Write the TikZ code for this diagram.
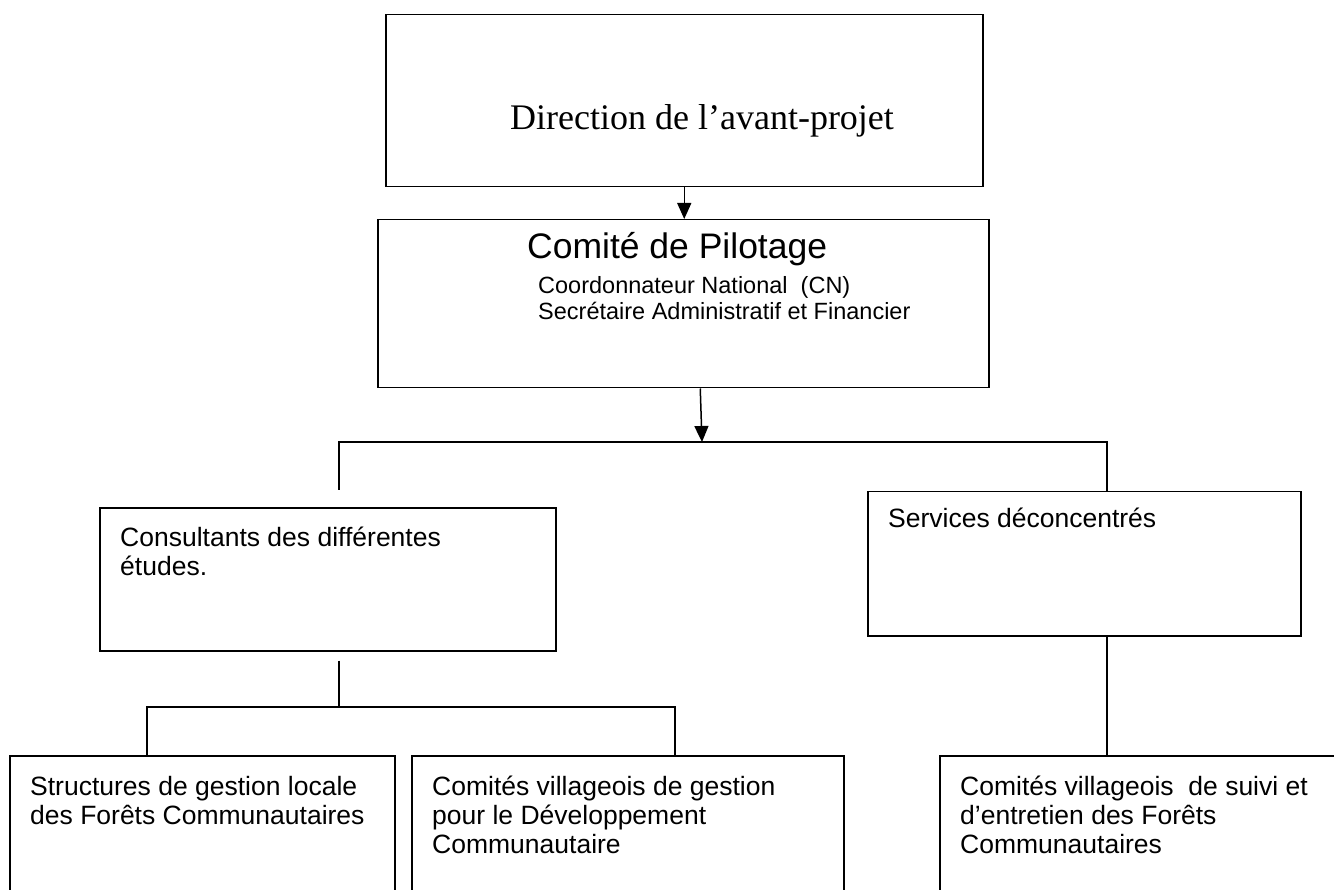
\documentclass[tikz,border=0pt]{standalone}
\usepackage{fontspec}
\setmainfont{Liberation Sans}
\newfontfamily\timesfont{Liberation Serif}
\usetikzlibrary{arrows.meta,positioning,calc}
\tikzstyle{box}=[draw,line width=1.5pt,rectangle,inner sep=0pt,anchor=north west]
% multi-line texts are placed by the baseline of their last line
\tikzstyle{txt}=[inner sep=0pt,anchor=base west,align=left,font=\fontsize{26.5}{29}\selectfont]
\tikzstyle{subtxt}=[inner sep=0pt,anchor=base west,align=left,font=\fontsize{23.5}{26}\selectfont]
\tikzstyle{link}=[draw,line width=1.5pt]
\tikzstyle{edge}=[draw,line width=1.5pt,-{Triangle[width=14pt,length=16pt]}]

\begin{document}
\begin{tikzpicture}[x=1pt,y=-1pt]
\useasboundingbox (0,0) rectangle (1334,890);
\clip (0,0) rectangle (1334,890);

% boxes: name/left/top/width/height
\foreach \name/\bx/\by/\bw/\bh in {dir/385/14/597/172, comite/377/219/611/168,
    cons/99/507/456/143, serv/867/491/433/144,
    struct/9/755/385/160, cvgd/411/755/432/160, cvse/939/755/420/160}
  \node[box,minimum width=\bw pt,minimum height=\bh pt] (\name) at (\bx,\by) {};

% top levels
\node[inner sep=0pt,anchor=base,font=\timesfont\fontsize{36}{40}\selectfont] (dirtxt) at (702,130) {Direction de l’avant-projet};
\node[inner sep=0pt,anchor=base west,font=\fontsize{35.5}{38}\selectfont] (comtitle) at (527,259) {Comité de Pilotage};
\node[subtxt] (comsub) at (538,320) {Coordonnateur National~ (CN)\\Secrétaire Administratif et Financier};

% second level
\node[txt] (constxt) at (120,575) {Consultants des différentes\\études.};
\node[txt] (servtxt) at (888,527) {Services déconcentrés};

% third level
\node[txt] (structtxt) at (30,824) {Structures de gestion locale\\des Forêts Communautaires};
\node[txt] (cvgdtxt) at (432,853) {Comités villageois de gestion\\pour le Développement\\Communautaire};
\node[txt] (cvsetxt) at (960,853) {Comités villageois~ de suivi et\\d’entretien des Forêts\\Communautaires};

% connectors
\coordinate (busL) at (339,442);
\coordinate (busR) at (1107,442);
\coordinate (busM) at (702,442);
\coordinate (lowL) at (147,707);
\coordinate (lowM) at (339,707);
\coordinate (lowR) at (675,707);

\draw[edge] (dir.south) -- (dir.south |- comite.north);
\draw[edge] ($(comite.south)+(17,0)$) -- (busM);
\draw[link] ($(busL)+(0,48)$) -- (busL) -- (busR) -- (busR |- serv.north);
\draw[link] ($(cons.south -| lowM)+(0,9)$) -- (lowM);
\draw[link] (lowL |- struct.north) -- (lowL) -- (lowR) -- (lowR |- cvgd.north);
\draw[link] (serv.south -| busR) -- (busR |- cvse.north);

\end{tikzpicture}
\end{document}
